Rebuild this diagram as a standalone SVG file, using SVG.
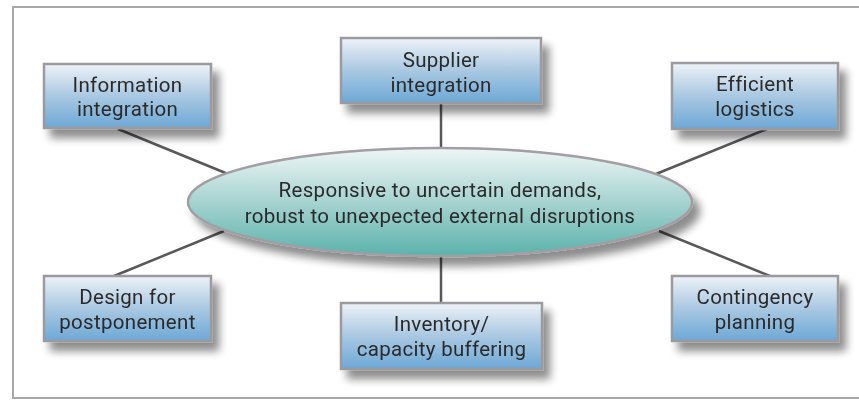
<svg xmlns="http://www.w3.org/2000/svg" width="859" height="400" viewBox="0 0 859 400">
<defs>
<linearGradient id="boxg" x1="0" y1="0" x2="0" y2="1">
<stop offset="0" stop-color="#eef2f7"/>
<stop offset="0.5" stop-color="#a9c8e2"/>
<stop offset="1" stop-color="#6da8d6"/>
</linearGradient>
<linearGradient id="ellg" x1="0" y1="0" x2="0" y2="1">
<stop offset="0" stop-color="#eef6f6"/>
<stop offset="0.5" stop-color="#a6d3d0"/>
<stop offset="1" stop-color="#5cb2ab"/>
</linearGradient>
<filter id="sh" x="-20%" y="-20%" width="150%" height="170%">
<feGaussianBlur in="SourceAlpha" stdDeviation="4"/>
<feOffset dx="7" dy="9" result="b"/>
<feComponentTransfer><feFuncA type="linear" slope="0.45"/></feComponentTransfer>
<feMerge><feMergeNode/><feMergeNode in="SourceGraphic"/></feMerge>
</filter>
</defs>
<style>
.box{fill:url(#boxg);stroke:#9d9a9f;stroke-width:2.5}
.ell{fill:url(#ellg);stroke:#a29ea4;stroke-width:2.5}
.lbl{font-family:Roboto,"Liberation Sans",sans-serif;font-size:20.5px;letter-spacing:0.3px;fill:#2b2a2c;text-anchor:middle}
.con{stroke:#58585b;stroke-width:2.5;fill:none}
</style>
<rect x="13" y="7" width="860" height="391" fill="#fff" stroke="#a9a6aa" stroke-width="2"/>
<g id="connectors">
<line class="con" x1="441" y1="103" x2="441" y2="149"/>
<line class="con" x1="441" y1="256" x2="441" y2="303"/>
<line class="con" x1="118" y1="129" x2="228" y2="174"/>
<line class="con" x1="114" y1="276" x2="224" y2="231"/>
<line class="con" x1="767" y1="129" x2="656" y2="174"/>
<line class="con" x1="770" y1="276" x2="659" y2="231"/>
</g>
<g id="center" filter="url(#sh)">
<ellipse class="ell" cx="440" cy="202" rx="252" ry="54"/>
<text class="lbl" x="440" y="197">Responsive to uncertain demands,</text>
<text class="lbl" x="440" y="223">robust to unexpected external disruptions</text>
</g>
<g id="info" filter="url(#sh)">
<rect class="box" x="44" y="64" width="167" height="64"/>
<text class="lbl" x="127.5" y="92">Information</text>
<text class="lbl" x="127.5" y="116">integration</text>
</g>
<g id="supplier" filter="url(#sh)">
<rect class="box" x="341" y="38" width="200" height="65"/>
<text class="lbl" x="441" y="67">Supplier</text>
<text class="lbl" x="441" y="92">integration</text>
</g>
<g id="logistics" filter="url(#sh)">
<rect class="box" x="672" y="63" width="166" height="66"/>
<text class="lbl" x="755" y="91">Efficient</text>
<text class="lbl" x="755" y="116">logistics</text>
</g>
<g id="postponement" filter="url(#sh)">
<rect class="box" x="44" y="276" width="167" height="65"/>
<text class="lbl" x="127.5" y="304">Design for</text>
<text class="lbl" x="127.5" y="329">postponement</text>
</g>
<g id="inventory" filter="url(#sh)">
<rect class="box" x="341" y="303" width="201" height="66"/>
<text class="lbl" x="441.5" y="331">Inventory/</text>
<text class="lbl" x="441.5" y="356">capacity buffering</text>
</g>
<g id="contingency" filter="url(#sh)">
<rect class="box" x="672" y="276" width="166" height="65"/>
<text class="lbl" x="755" y="304">Contingency</text>
<text class="lbl" x="755" y="329">planning</text>
</g>
</svg>
